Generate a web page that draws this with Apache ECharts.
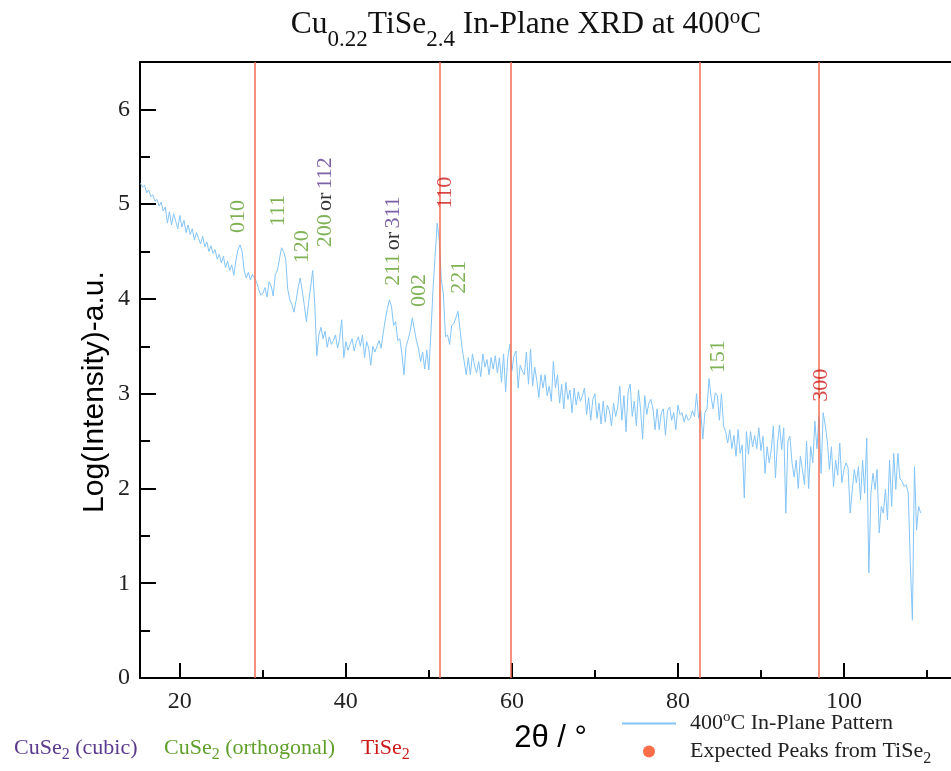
<!DOCTYPE html>
<html>
<head>
<meta charset="utf-8">
<title>Cu0.22TiSe2.4 In-Plane XRD at 400C</title>
<script src="https://cdn.jsdelivr.net/npm/echarts@6/dist/echarts.min.js"></script>
<style>
html,body{margin:0;padding:0;background:#fff;}
#main{width:951px;height:771px;}
</style>
</head>
<body>
<div id="main"></div>
<script>
/*---------- data ----------*/
// 2theta grid of the scan (degrees)
var twoThetaStart = 15.25;
var twoThetaStep = 0.25;
// log(intensity), one row per degree (4 points per row)
var logIntensity = [
    5.22, 5.18, 5.2, 5.12,    // 15
    5.15, 5.08, 5.1, 5.03,    // 16
    5.05, 4.98, 5.02, 4.93,   // 17
    4.97, 4.8, 4.92, 4.78,    // 18
    4.9, 4.82, 4.74, 4.88,    // 19
    4.76, 4.83, 4.7, 4.78,    // 20
    4.68, 4.74, 4.62, 4.7,    // 21
    4.64, 4.58, 4.66, 4.55,   // 22
    4.6, 4.5, 4.56, 4.48,     // 23
    4.52, 4.42, 4.47, 4.38,   // 24
    4.45, 4.33, 4.4, 4.3,     // 25
    4.36, 4.25, 4.4, 4.52,    // 26
    4.57, 4.5, 4.3, 4.22,     // 27
    4.28, 4.2, 4.26, 4.22,    // 28
    4.18, 4.1, 4.04, 4.06,    // 29
    4.12, 4.02, 4.18, 4.14,   // 30
    4.03, 4.26, 4.3, 4.42,    // 31
    4.54, 4.5, 4.42, 4.1,     // 32
    3.99, 3.94, 3.86, 3.98,   // 33
    4.12, 4.22, 4.08, 3.93,   // 34
    3.76, 3.95, 4.12, 4.3,    // 35
    3.95, 3.4, 3.62, 3.7,     // 36
    3.58, 3.66, 3.49, 3.6,    // 37
    3.52, 3.56, 3.62, 3.48,   // 38
    3.58, 3.78, 3.38, 3.55,   // 39
    3.46, 3.52, 3.58, 3.45,   // 40
    3.54, 3.6, 3.5, 3.62,     // 41
    3.38, 3.55, 3.48, 3.3,    // 42
    3.5, 3.44, 3.5, 3.56,     // 43
    3.48, 3.64, 3.78, 3.9,    // 44
    3.99, 3.92, 3.72, 3.76,   // 45
    3.56, 3.58, 3.42, 3.2,    // 46
    3.5, 3.57, 3.66, 3.8,     // 47
    3.68, 3.56, 3.48, 3.34,   // 48
    3.44, 3.26, 3.46, 3.25,   // 49
    3.65, 4.1, 4.45, 4.8,     // 50
    4.62, 4.2, 4.05, 3.6,     // 51
    3.62, 3.52, 3.72, 3.74,   // 52
    3.8, 3.87, 3.68, 3.48,    // 53
    3.34, 3.2, 3.38, 3.2,     // 54
    3.42, 3.3, 3.22, 3.34,    // 55
    3.18, 3.42, 3.28, 3.36,   // 56
    3.2, 3.38, 3.26, 3.4,     // 57
    3.22, 3.38, 3.12, 3.42,   // 58
    3.02, 3.38, 3.52, 3.24,   // 59
    3.4, 3.45, 3.06, 3.3,     // 60
    3.24, 3.2, 3.44, 3.1,     // 61
    3.47, 3.08, 3.28, 3.14,   // 62
    2.96, 3.2, 3.06, 3.2,     // 63
    2.98, 3.08, 2.92, 3.34,   // 64
    3.06, 3.2, 2.9, 3.1,      // 65
    2.84, 3.12, 2.94, 3.04,   // 66
    2.8, 3.06, 2.88, 3.02,    // 67
    2.92, 2.98, 3.06, 2.78,   // 68
    2.96, 2.72, 2.94, 3.0,    // 69
    2.74, 2.9, 2.68, 2.92,    // 70
    2.7, 2.88, 2.82, 2.66,    // 71
    2.9, 2.76, 2.86, 3.08,    // 72
    2.72, 2.98, 2.6, 3.02,    // 73
    3.1, 2.76, 2.92, 2.66,    // 74
    3.04, 2.84, 2.52, 2.98,   // 75
    2.78, 2.9, 2.94, 2.84,    // 76
    2.62, 2.84, 2.62, 2.8,    // 77
    2.84, 2.56, 2.82, 2.86,   // 78
    2.72, 2.8, 2.62, 2.88,    // 79
    2.78, 2.8, 2.7, 2.78,     // 80
    2.72, 2.74, 2.82, 2.76,   // 81
    3.0, 2.74, 2.82, 2.52,    // 82
    2.8, 2.84, 3.16, 2.96,    // 83
    2.84, 3.01, 2.98, 2.72,   // 84
    3.0, 2.66, 2.6, 2.48,     // 85
    2.62, 2.42, 2.56, 2.34,   // 86
    2.62, 2.37, 2.46, 1.9,    // 87
    2.6, 2.36, 2.6, 2.44,     // 88
    2.56, 2.42, 2.64, 2.4,    // 89
    2.55, 2.16, 2.44, 2.27,   // 90
    2.41, 2.66, 2.11, 2.48,   // 91
    2.67, 2.41, 2.64, 1.74,   // 92
    2.5, 2.55, 2.27, 2.12,    // 93
    2.3, 2.0, 2.34, 2.2,      // 94
    2.04, 2.5, 2.0, 2.44,     // 95
    2.27, 2.71, 2.42, 2.76,   // 96
    2.16, 2.8, 2.67, 2.5,     // 97
    2.2, 2.44, 2.02, 2.3,     // 98
    2.14, 2.48, 2.06, 2.2,    // 99
    2.27, 2.22, 1.74, 1.98,   // 100
    2.2, 2.06, 2.23, 1.88,    // 101
    2.3, 1.95, 2.53, 1.11,    // 102
    1.95, 2.16, 1.99, 2.2,    // 103
    1.53, 1.81, 1.74, 1.99,   // 104
    1.67, 2.3, 1.81, 2.37,    // 105
    1.99, 2.37, 2.1, 2.08,    // 106
    2.02, 2.04, 1.95, 1.21,   // 107
    0.61, 2.23, 1.56, 1.81,   // 108
    1.74                      // 109
];

// expected TiSe2 peak positions (2theta)
var tise2Peaks = [29.05, 51.3, 59.9, 82.65, 97.0];

// peak index labels: o = CuSe2 orthogonal, c = CuSe2 cubic, t = TiSe2, k = plain
var peakLabels = ['{o|010}', '{o|111}', '{o|120}', '{o|200} {k|or} {c|112}', '{o|211} {k|or} {c|311}',
    '{o|002}', '{t|110}', '{o|221}', '{o|151}', '{t|300}'];
var peakLabelTheta = [27.05, 31.8, 34.7, 37.47, 45.66, 48.8, 51.93, 53.6, 84.82, 97.23];
var peakLabelLogI = [4.87, 4.93, 4.55, 5.02, 4.61, 4.09, 5.12, 4.23, 3.39, 3.09];

var xMajorTicks = [20, 40, 60, 80, 100];
var xMinorTicks = [30, 50, 70, 90, 110];
var yMajorTicks = [0, 1, 2, 3, 4, 5, 6];
var yMinorTicks = [0.5, 1.5, 2.5, 3.5, 4.5, 5.5];

/*---------- chart ----------*/
var serif = 'Liberation Serif';
var sans = 'Liberation Sans';
var cGreen = '#5f9f2a';
var cPurple = '#5b3a8e';
var cRed = '#cc1a1a';
var cLine = '#84c5f7';
var cPeak = '#f26d50';

var myChart = echarts.init(document.getElementById('main'));

var patternData = logIntensity.map(function (v, i) {
    return [twoThetaStart + i * twoThetaStep, v];
});
var labelData = peakLabelTheta.map(function (t, i) {
    return [t, peakLabelLogI[i]];
});

var subStyle = function (size, pad, color) {
    return {fontFamily: serif, fontSize: size, fill: color, color: color, verticalAlign: 'middle', padding: pad};
};

var option = {
    animation: false,
    backgroundColor: '#fff',
    grid: {left: 140, right: 0, top: 62, bottom: 93, containLabel: false, outerBoundsMode: 'none'},
    xAxis: [
        {
            type: 'value', position: 'bottom', min: 15.2, max: 112.9,
            name: '2θ / °', nameLocation: 'middle', nameGap: 45, nameMoveOverlap: false,
            nameTextStyle: {fontFamily: sans, fontSize: 31, color: '#000', padding: [0, 0, 0, 10]},
            axisLine: {show: true, onZero: false, lineStyle: {color: '#000', width: 2}},
            axisTick: {show: true, inside: true, length: 15, customValues: xMajorTicks, lineStyle: {color: '#000', width: 2}},
            axisLabel: {show: true, customValues: xMajorTicks, margin: 12, fontFamily: serif, fontSize: 24, color: '#222'},
            splitLine: {show: false}
        },
        {
            type: 'value', position: 'bottom', min: 15.2, max: 112.9,
            axisLine: {show: false},
            axisTick: {show: true, inside: true, length: 8, customValues: xMinorTicks, lineStyle: {color: '#000', width: 2}},
            axisLabel: {show: false},
            splitLine: {show: false}
        },
        {
            type: 'value', position: 'top', min: 15.2, max: 112.9,
            axisLine: {show: true, onZero: false, lineStyle: {color: '#000', width: 2}},
            axisTick: {show: false},
            axisLabel: {show: false},
            splitLine: {show: false}
        }
    ],
    yAxis: [
        {
            type: 'value', position: 'left', min: 0, max: 6.5,
            name: 'Log(Intensity)-a.u.', nameLocation: 'middle', nameGap: 30, nameRotate: 90, nameMoveOverlap: false,
            nameTextStyle: {fontFamily: sans, fontSize: 30, color: '#000', padding: [0, 44, 0, 0]},
            axisLine: {show: true, onZero: false, lineStyle: {color: '#000', width: 2}},
            axisTick: {show: true, inside: true, length: 16, customValues: yMajorTicks, lineStyle: {color: '#000', width: 2}},
            axisLabel: {show: true, customValues: yMajorTicks, margin: 10, fontFamily: serif, fontSize: 24, color: '#222'},
            splitLine: {show: false}
        },
        {
            type: 'value', position: 'left', min: 0, max: 6.5,
            axisLine: {show: false},
            axisTick: {show: true, inside: true, length: 10, customValues: yMinorTicks, lineStyle: {color: '#000', width: 2}},
            axisLabel: {show: false},
            splitLine: {show: false}
        }
    ],
    legend: {
        orient: 'vertical', left: 617, top: 705, itemWidth: 54, itemHeight: 12, itemGap: 6,
        symbolKeepAspect: true,
        data: [
            {name: '400C In-Plane Pattern', icon: 'path://M0 0H27V1H0Z'},
            {name: 'Expected Peaks from TiSe2', icon: 'circle'}
        ],
        formatter: function (name) {
            if (name === '400C In-Plane Pattern') return '{n|400}{sup|o}{n|C In-Plane Pattern}';
            return '{n|Expected Peaks from TiSe}{sub|2}';
        },
        textStyle: {
            fontFamily: serif, fontSize: 22, color: '#222', padding: [0, 0, 0, 9],
            rich: {
                n: {fontFamily: serif, fontSize: 22, color: '#222', verticalAlign: 'middle'},
                sup: {fontFamily: serif, fontSize: 15, color: '#222', verticalAlign: 'middle', padding: [0, 0, 12, 0]},
                sub: {fontFamily: serif, fontSize: 16, color: '#222', verticalAlign: 'middle', padding: [14, 0, 0, 0]}
            }
        }
    },
    series: [
        {
            name: '400C In-Plane Pattern',
            type: 'line',
            data: patternData,
            symbol: 'none',
            showSymbol: false,
            lineStyle: {color: cLine, width: 1},
            itemStyle: {color: cLine},
            z: 3
        },
        {
            name: 'Expected Peaks from TiSe2',
            type: 'scatter',
            data: [],
            symbolSize: 12,
            itemStyle: {color: '#fa4a1c'},
            markLine: {
                silent: true,
                symbol: ['none', 'none'],
                label: {show: false},
                lineStyle: {color: cPeak, width: 1.5, type: 'solid'},
                data: tise2Peaks.map(function (t) { return {xAxis: t}; })
            },
            z: 2
        },
        {
            name: 'peak labels',
            type: 'scatter',
            data: labelData,
            symbolSize: 1,
            itemStyle: {color: 'transparent'},
            silent: true,
            z: 5,
            label: {
                show: true,
                position: 'inside',
                rotate: 90,
                formatter: function (p) { return peakLabels[p.dataIndex]; },
                rich: {
                    o: {fontFamily: serif, fontSize: 22, color: cGreen},
                    c: {fontFamily: serif, fontSize: 22, color: cPurple},
                    t: {fontFamily: serif, fontSize: 22, color: cRed},
                    k: {fontFamily: serif, fontSize: 22, color: '#000'}
                }
            }
        }
    ],
    graphic: [
        {
            type: 'text', x: 526, y: 25, silent: true,
            style: {
                text: '{n|Cu}{sub|0.22}{n|TiSe}{sub|2.4}{n| In-Plane XRD at 400}{sup|o}{n|C}',
                align: 'center', verticalAlign: 'middle',
                fontFamily: serif, fontSize: 31.5, fill: '#111',
                rich: {
                    n: subStyle(31.5, 0, '#111'),
                    sub: subStyle(23, [30, 0, 0, 0], '#111'),
                    sup: subStyle(21, [0, 0, 16, 0], '#111')
                }
            }
        },
        {
            type: 'text', x: 14, y: 748, silent: true,
            style: {
                text: '{n|CuSe}{sub|2}{n| (cubic)}', align: 'left', verticalAlign: 'middle',
                fontFamily: serif, fontSize: 22, fill: cPurple,
                rich: {n: subStyle(22, 0, cPurple), sub: subStyle(16, [14, 0, 0, 0], cPurple)}
            }
        },
        {
            type: 'text', x: 164, y: 748, silent: true,
            style: {
                text: '{n|CuSe}{sub|2}{n| (orthogonal)}', align: 'left', verticalAlign: 'middle',
                fontFamily: serif, fontSize: 22, fill: cGreen,
                rich: {n: subStyle(22, 0, cGreen), sub: subStyle(16, [14, 0, 0, 0], cGreen)}
            }
        },
        {
            type: 'text', x: 361, y: 748, silent: true,
            style: {
                text: '{n|TiSe}{sub|2}', align: 'left', verticalAlign: 'middle',
                fontFamily: serif, fontSize: 22, fill: cRed,
                rich: {n: subStyle(22, 0, cRed), sub: subStyle(16, [14, 0, 0, 0], cRed)}
            }
        }
    ]
};

myChart.setOption(option);
</script>
</body>
</html>
